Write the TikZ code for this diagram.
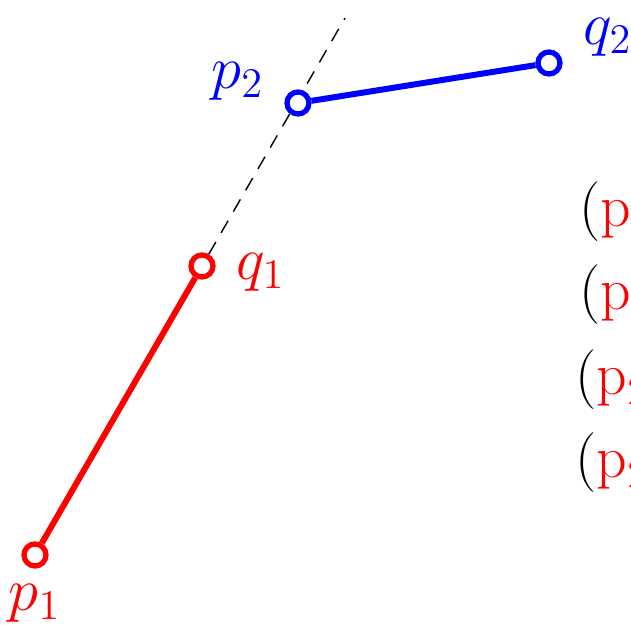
\documentclass[tikz,border=0pt]{standalone}
\usepackage{tikz}
\usetikzlibrary{positioning,backgrounds}

\begin{document}
\begin{tikzpicture}[
    node distance=0.1cm,
    pt/.style={circle, draw=#1, line width=1.5pt, fill=white, minimum size=0.22cm, inner sep=0pt},
    seg/.style={line width=1.7pt},
    lbl/.style={font=\fontsize{17}{20}\selectfont, inner sep=0pt},
    ord/.style={font=\fontsize{17}{20}\selectfont, inner sep=0pt, anchor=base west}
  ]
    \useasboundingbox (0,0) rectangle (6.31,6.27);
    \clip (0,0) rectangle (6.31,6.27);
    % the two segments
    \node[pt=red] (p1) at (0.35,0.72) {};
    \node[pt=red] (q1) at (2.02,3.61) {};
    \node[pt=blue] (p2) at (2.98,5.24) {};
    \node[pt=blue] (q2) at (5.49,5.64) {};
    \coordinate (d) at (3.45,6.09);
    \draw[seg, red] (p1) -- (q1);
    \draw[seg, blue] (p2) -- (q2);
    \begin{scope}[on background layer]
      \draw[line width=0.4pt, dash pattern=on 4pt off 3pt] (q1) -- (d);
    \end{scope}
    % labels
    \node[lbl, red, below=0.15cm of p1] (lp1) {$p_1$};
    \node[lbl, red, right=0.2cm of q1, yshift=-0.06cm] (lq1) {$q_1$};
    \node[lbl, blue, left=0.2cm of p2, yshift=0.22cm] (lp2) {$p_2$};
    \node[lbl, blue, right=0.2cm of q2, yshift=0.26cm] (lq2) {$q_2$};
    % orientation tests, cut at the right edge
    \node[ord] (t1) at (5.79,4.00) {(\textcolor{red}{p$_1$}, \textcolor{red}{q$_1$}, \textcolor{blue}{p$_2$})};
    \node[ord] (t2) at (5.79,3.17) {(\textcolor{red}{p$_1$}, \textcolor{red}{q$_1$}, \textcolor{blue}{q$_2$})};
    \node[ord] (t3) at (5.75,2.32) {(\textcolor{red}{p$_2$}, \textcolor{red}{q$_2$}, \textcolor{blue}{p$_1$})};
    \node[ord] (t4) at (5.75,1.49) {(\textcolor{red}{p$_2$}, \textcolor{red}{q$_2$}, \textcolor{blue}{q$_1$})};
  \end{tikzpicture}
\end{document}
